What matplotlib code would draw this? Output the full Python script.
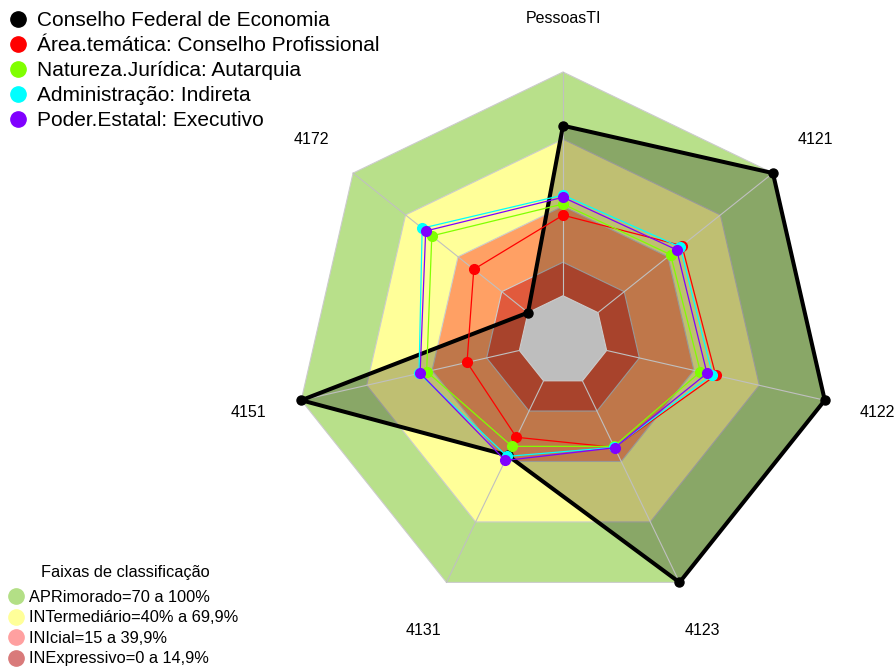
import numpy as np
import matplotlib
matplotlib.use("Agg")
import matplotlib.pyplot as plt
from matplotlib.lines import Line2D
from matplotlib.patches import Polygon

plt.rcParams['font.family'] = ['Liberation Sans', 'DejaVu Sans']

# axes of the radar, clockwise from the top
categories = ['PessoasTI', '4121', '4122', '4123', '4131', '4151', '4172']

# series values (0 to 100)
series_names = ['Conselho Federal de Economia',
                'Área.temática: Conselho Profissional',
                'Natureza.Jurídica: Autarquia',
                'Administração: Indireta',
                'Poder.Estatal: Executivo']
conselho = [76, 100, 100, 100, 37, 100, 0]
area_tematica = [36, 48, 50, 33, 28, 24, 31]
natureza = [41, 41.5, 43, 32.5, 32.5, 42.5, 55]
administracao = [45, 47, 48.5, 33, 37.5, 46, 60.5]
poder = [44, 45, 46, 33.2, 39.5, 45.5, 58.5]
series_colors = ['black', '#ff0000', '#80ff00', '#00ffff', '#8000ff']

# classification bands
band_title = 'Faixas de classificação'
band_labels = ['APRimorado=70 a 100%', 'INTermediário=40% a 69,9%',
               'INIcial=15 a 39,9%', 'INExpressivo=0 a 14,9%']
band_limits = [100, 70, 40, 15]
band_fill = ['#b8e08a', '#ffff99', '#ffa064', '#e15a3c']
band_legend = ['#b3df86', '#ffff99', '#ffa0a0', '#d97a7a']

n = len(categories)
theta = np.pi / 2 - 2 * np.pi * np.arange(n) / n
seg = 5  # inner hole = 1/(seg+1) of the radius, as in fmsb


def radius(v):
    return (1 + seg * np.asarray(v, dtype=float) / 100) / (seg + 1)


def to_xy(values):
    r = radius(values)
    return r * np.cos(theta), r * np.sin(theta)


fig = plt.figure(figsize=(8.96, 6.68), dpi=100)
ax = fig.add_axes([0, 0, 1, 1])
cx, cy, R = 563, 340.5, 268.5
ax.set_xlim(-cx / R, (896 - cx) / R)
ax.set_ylim(-(668 - cy) / R, cy / R)
ax.axis('off')

# bands, outermost first
for lim, col in zip(band_limits, band_fill):
    x, y = to_xy([lim] * n)
    ax.add_patch(Polygon(np.column_stack([x, y]), closed=True, facecolor=col,
                         edgecolor='#cccccc', lw=0.8, zorder=1))

# radial axis lines
r0, r1 = radius(0), radius(100)
for t in theta:
    ax.plot([r0 * np.cos(t), r1 * np.cos(t)], [r0 * np.sin(t), r1 * np.sin(t)],
            color='#c0c0c0', lw=0.8, zorder=4)

# series
all_series = [conselho, area_tematica, natureza, administracao, poder]
for i, (vals, col) in enumerate(zip(all_series, series_colors)):
    x, y = to_xy(vals)
    xc, yc = np.append(x, x[0]), np.append(y, y[0])
    if i == 0:
        ax.fill(x, y, color='black', alpha=0.25, lw=0, zorder=2)
        ax.plot(xc, yc, color=col, lw=2.9, zorder=6)
        ax.plot(x, y, 'o', color=col, ms=6.5, zorder=6)
    else:
        ax.plot(xc, yc, color=col, lw=0.9, zorder=6 + i)
        ax.plot(x, y, 'o', color=col, ms=7, zorder=6 + i)

# grey hole in the middle
x, y = to_xy([0] * n)
ax.add_patch(Polygon(np.column_stack([x, y]), closed=True, facecolor='#bebebe',
                     edgecolor='#cccccc', lw=0.8, zorder=3))

# axis labels
for t, lab in zip(theta, categories):
    ax.text(1.2 * np.cos(t), 1.2 * np.sin(t), lab, ha='center', va='center',
            fontsize=11.5)

# series legend
handles = [Line2D([], [], marker='o', ls='', color=c, ms=11) for c in series_colors]
fig.legend(handles, series_names, loc='upper left', bbox_to_anchor=(-0.009, 1.008),
           frameon=False, fontsize=15, handlelength=0.9, handletextpad=0.45,
           labelspacing=0.285, borderpad=0.3)

# bands legend
bhandles = [Line2D([], [], marker='o', ls='', color=c, ms=11) for c in band_legend]
fig.legend(bhandles, band_labels, loc='lower left', bbox_to_anchor=(-0.005, -0.017),
           frameon=False, fontsize=11.8, handlelength=0.9, handletextpad=0.33,
           labelspacing=0.33, borderpad=0.3)
fig.text(125 / 896, 1 - 572 / 668, band_title, ha='center', va='center',
         fontsize=11.8)

fig.savefig('out.png', dpi=100)
